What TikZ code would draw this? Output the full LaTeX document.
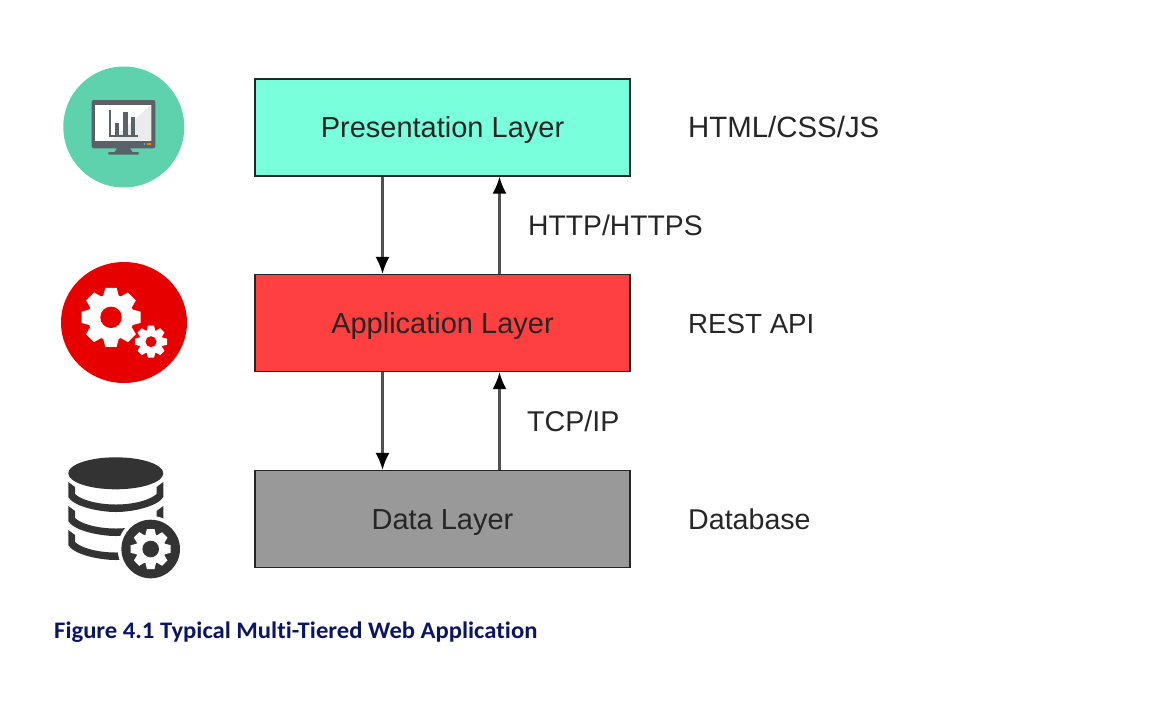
\documentclass[tikz,border=0pt]{standalone}
\usepackage{fontspec}
\setmainfont{Liberation Sans}
\newfontfamily\capfont{Carlito}[FakeStretch=1.04,Ligatures=NoCommon]
\usetikzlibrary{arrows.meta}
\definecolor{capblue}{HTML}{0B1560}
\definecolor{monitor}{HTML}{5A6169}
\definecolor{dbdark}{HTML}{333333}
\definecolor{prescol}{RGB}{122,255,220}
\definecolor{appcol}{RGB}{255,64,64}
\definecolor{datacol}{RGB}{153,153,153}
\definecolor{iconteal}{RGB}{93,210,172}
\definecolor{iconred}{RGB}{230,0,0}
\definecolor{screenshade}{RGB}{235,235,235}
\definecolor{linkgrey}{RGB}{80,80,80}
\tikzset{
  layer/.style={draw=black!85,line width=1.1pt,minimum width=375pt,minimum height=97pt,inner sep=0pt,text height=25pt,text depth=5pt,font=\fontsize{29}{32}\selectfont,text=black!85},
  lbl/.style={anchor=base west,inner sep=0pt,font=\fontsize{28.6}{32}\selectfont,text=black!85},
  linkline/.style={draw=linkgrey,line width=2.4pt},
  linkhead/.style={fill=black},
}
% gear: [rotation] centre, outer r, inner r, hole r, teeth, colour, hole colour
\newcommand{\mygear}[8][0]{%
  \begin{scope}[shift={(#2)},rotate=#1]
    \fill[#7] (0,0) circle (#4);
    \foreach \i in {1,...,#6}{
      \fill[#7,rotate=\i*360/#6] (-#3*0.27,#4*0.9) -- (-#3*0.19,#3) -- (#3*0.19,#3) -- (#3*0.27,#4*0.9) -- cycle;
    }
    \fill[#8] (0,0) circle (#5);
  \end{scope}}
\begin{document}
\begin{tikzpicture}[x=1pt,y=-1pt]
\useasboundingbox (0,0) rectangle (1166,702);
\fill[white] (0,0) rectangle (1166,702);
% layers
\node[layer,fill=prescol] (pres) at (442.5,127.5) {Presentation Layer};
\node[layer,fill=appcol] (app) at (442.5,323) {Application Layer};
\node[layer,fill=datacol] (data) at (442.5,519) {Data Layer};
% connectors
\draw[linkline,-{Latex[length=17pt,width=14pt,black]}] (pres.south -| 382.5,0) -- (app.north -| 382.5,0);
\draw[linkline,-{Latex[length=17pt,width=14pt,black]}] (app.north -| 499.5,0) -- (pres.south -| 499.5,0);
\draw[linkline,-{Latex[length=17pt,width=14pt,black]}] (app.south -| 382.5,0) -- (data.north -| 382.5,0);
\draw[linkline,-{Latex[length=17pt,width=14pt,black]}] (data.north -| 499.5,0) -- (app.south -| 499.5,0);
% labels
\node[lbl,font=\fontsize{29.4}{32}\selectfont] (t1) at (688,137.5) {HTML/CSS/JS};
\node[lbl,font=\fontsize{28.3}{32}\selectfont] (t2) at (528,235) {HTTP/HTTPS};
\node[lbl,font=\fontsize{27.7}{32}\selectfont] (t3) at (688,333) {REST API};
\node[lbl] (t4) at (527,431) {TCP/IP};
\node[lbl] (t5) at (688,529) {Database};
\node[anchor=west,inner sep=0pt,text=capblue,font=\capfont\bfseries\fontsize{23.7}{26}\selectfont] (cap) at (54,632) {Figure 4.1 Typical Multi-Tiered Web Application};
% monitor icon
\fill[iconteal] (123.8,127) circle (60.5);
\fill[monitor,rounded corners=2pt] (91.7,100) rectangle (155.3,148.3);
\fill[monitor] (117,148) -- (130,148) -- (133,153) -- (114,153) -- cycle;
\fill[monitor,rounded corners=1pt] (108,152) rectangle (139,154.5);
\fill[white] (95.3,105) rectangle (151.3,140.7);
\fill[screenshade] (151.3,105) -- (151.3,140.7) -- (110,140.7) -- cycle;
\fill[monitor] (109,110) rectangle (110.5,136);
\fill[monitor] (109,135) rectangle (138,136.5);
\fill[monitor] (115,122.7) rectangle (119,135);
\fill[monitor] (123.3,112.3) rectangle (127.7,135);
\fill[monitor] (131,117.3) rectangle (135.3,135);
\fill[iconteal] (144.5,144) circle (0.9);
\fill[orange] (147,143.2) rectangle (151,144.8);
% gears icon
\fill[iconred] (124,322.5) ellipse (63 and 60.5);
\mygear{111,317.3}{29.5}{23}{10.7}{8}{white}{iconred}
\mygear{151,341.7}{16}{12}{5.5}{8}{white}{iconred}
% database icon
\fill[dbdark] (115.8,473.3) ellipse (47.5 and 16);
\foreach \yy in {0,24,48}{
  \begin{scope}[yshift=-\yy pt]
  \fill[dbdark] (68.3,482) -- (68.3,497) .. controls (73,506) and (98,512) .. (115.8,512)
     .. controls (134,512) and (158,506) .. (163.3,497) -- (163.3,482)
     -- (156.6,487) -- (156.6,494) .. controls (150,500) and (134,504.5) .. (115.8,504.5)
     .. controls (98,504.5) and (81,500) .. (75,494) -- (75,487) -- cycle;
  \end{scope}
}
\fill[white] (150.7,549) circle (33);
\fill[dbdark] (150.7,549) circle (29.3);
\mygear{150.7,549}{20}{15}{8.3}{8}{white}{dbdark}
\end{tikzpicture}
\end{document}
